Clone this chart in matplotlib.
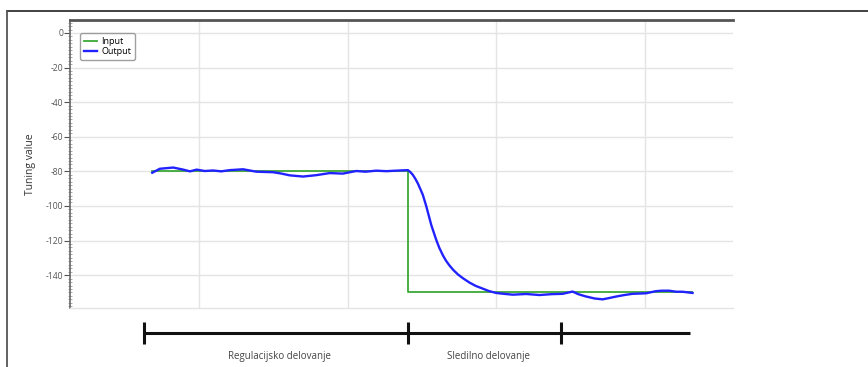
import matplotlib
matplotlib.use("Agg")
import matplotlib.pyplot as plt
from matplotlib.lines import Line2D
from matplotlib.transforms import blended_transform_factory
from matplotlib.ticker import MultipleLocator

plt.rcParams['font.family'] = ['Open Sans', 'DejaVu Sans']

# ---- data ----
input_x = [68.5, 240.5, 240.5, 431.5]
input_y = [-80, -80, -150, -150]

output_x = [68.7, 73.8, 82.8, 89.5, 94.0, 98.5, 104.0, 109.6, 115.0, 120.8, 129.7,
            138.7, 149.9, 155.0, 161.0, 170.0, 179.0, 187.9, 196.8, 205.8, 212.0,
            219.3, 226.0, 232.7, 240.5, 242.0, 243.8, 245.5, 247.2, 249.0, 250.5,
            252.8, 254.5, 256.2, 259.5, 261.5, 264.0, 266.0, 268.5, 271.0, 274.0,
            277.5, 281.9, 286.0, 290.8, 295.0, 299.8, 305.0, 311.0, 320.0, 328.9,
            337.0, 344.5, 351.2, 355.0, 360.0, 366.0, 371.4, 376.0, 380.3, 386.0,
            391.5, 400.5, 407.0, 411.0, 416.0, 421.0, 425.0, 431.8]
output_y = [-80.8, -78.5, -77.8, -79.0, -80.0, -79.0, -79.8, -79.5, -80.0, -79.3, -78.8,
            -80.2, -80.5, -81.2, -82.3, -83.0, -82.2, -81.0, -81.3, -79.8, -80.2,
            -79.6, -79.9, -79.6, -79.3, -80.3, -82.0, -84.3, -87.0, -90.5, -93.5,
            -100.0, -105.5, -111.0, -119.5, -124.0, -128.5, -131.5, -134.5, -137.0, -139.5,
            -141.8, -144.3, -146.2, -147.8, -149.2, -150.3, -150.8, -151.3, -150.9, -151.5,
            -151.0, -150.8, -149.5, -151.0, -152.3, -153.5, -154.0, -153.2, -152.4, -151.5,
            -150.8, -150.5, -149.3, -149.0, -149.0, -149.6, -149.6, -150.3]

y_ticks = [0, -20, -40, -60, -80, -100, -120, -140]
x_grid = [100, 200, 300, 400]
bracket_x = [63.1, 240.9, 343.6, 430.2]
section_labels = ["Regulacijsko delovanje", "Sledilno delovanje"]
section_label_x = [154.4, 294.6]

# ---- figure ----
fig = plt.figure(figsize=(8.68, 3.67), dpi=100)
fig.patch.set_facecolor('white')

# outer frame lines (top and left)
fig.add_artist(Line2D([7/868, 1.0], [1 - 11/367, 1 - 11/367], transform=fig.transFigure,
                      color='#333333', lw=1.3))
fig.add_artist(Line2D([7/868, 7/868], [0, 1 - 11/367], transform=fig.transFigure,
                      color='#555555', lw=1.3))

ax = fig.add_axes([70/868, 1 - 308/367, (733 - 70)/868, (308 - 20)/367])

ax.plot(input_x, input_y, color='#3aa835', lw=1.3, label='Input', zorder=3)
ax.plot(output_x, output_y, color='#2222ff', lw=1.7, label='Output', zorder=4)

ax.set_xlim(13.4, 459)
ax.set_ylim(-159, 7.5)

ax.set_xticks(x_grid)
ax.set_xticklabels([])
ax.tick_params(axis='x', length=0)
ax.set_yticks(y_ticks)
ax.set_yticklabels([str(v) for v in y_ticks])
ax.yaxis.set_minor_locator(MultipleLocator(2))
ax.tick_params(axis='y', which='major', direction='out', length=4, width=0.8,
               colors='#555555', labelsize=6.2, pad=1)
ax.tick_params(axis='y', which='minor', direction='inout', length=3, width=0.5,
               color='#888888')

ax.grid(True, which='major', color='#e4e4e4', lw=1.0, zorder=0)

ax.spines['right'].set_visible(False)
ax.spines['top'].set_color('#555555')
ax.spines['top'].set_linewidth(2.0)
ax.spines['left'].set_color('#666666')
ax.spines['left'].set_linewidth(1.2)
ax.spines['bottom'].set_color('#e4e4e4')
ax.spines['bottom'].set_linewidth(1.0)

ax.set_ylabel('Tuning value', fontsize=7.5, color='#333333', labelpad=7)

leg = ax.legend(loc='upper left', fontsize=6.5, frameon=True, fancybox=True,
                handlelength=1.5, handletextpad=0.4, borderpad=0.45,
                labelspacing=0.1, bbox_to_anchor=(0.008, 0.97))
leg.get_frame().set_edgecolor('#888888')
leg.get_frame().set_linewidth(1.0)

# section bracket below axes
tr = blended_transform_factory(ax.transData, fig.transFigure)
y_line = 1 - 333/367
ax.plot([bracket_x[0], bracket_x[-1]], [y_line, y_line], transform=tr, color='#111111',
        lw=2.2, clip_on=False, solid_capstyle='butt')
for bx in bracket_x[:-1]:
    ax.plot([bx, bx], [1 - 322/367, 1 - 344/367], transform=tr, color='#111111',
            lw=2.2, clip_on=False, solid_capstyle='butt')
for lbl, lx in zip(section_labels, section_label_x):
    ax.text(lx, 1 - 356/367, lbl, transform=tr, ha='center', va='center',
            fontsize=7, color='#444444')

fig.savefig('out.png', dpi=100)
